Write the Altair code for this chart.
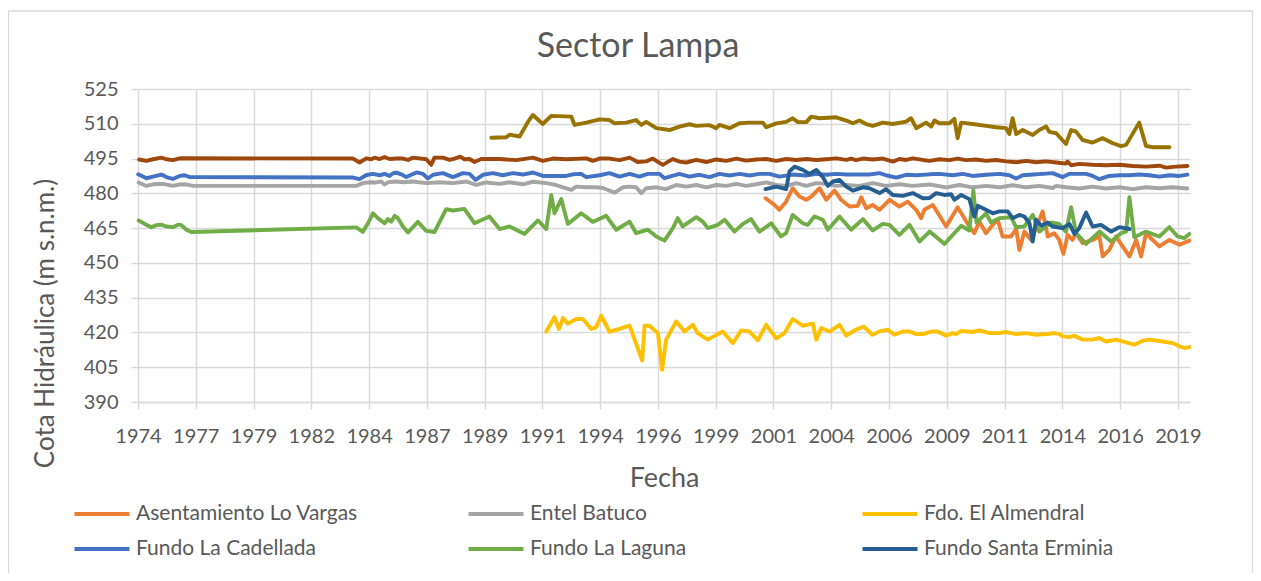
import altair as alt
import pandas as pd

# ---- series names and colours ----
names = ["Asentamiento Lo Vargas", "Entel Batuco", "Fdo. El Almendral",
         "Fundo La Cadellada", "Fundo La Laguna", "Fundo Santa Erminia",
         "Serie 7", "Serie 8"]
legend_names = names[:6]
colors = ["#ED7D31", "#A5A5A5", "#FFC000", "#4472C4", "#70AD47", "#255E91",
          "#9E480E", "#997300"]

# ---- data (decimal year, m s.n.m.) ----
vargas_t = [2001.53, 2001.91, 2002.12, 2002.41, 2002.69, 2002.98, 2003.27, 2003.48, 2003.84, 2004.12,
            2004.48, 2004.76, 2005.12, 2005.47, 2005.62, 2005.83, 2006.11, 2006.40, 2006.83, 2007.25,
            2007.61, 2007.97, 2008.18, 2008.32, 2008.68, 2009.25, 2009.74, 2010.24, 2010.45, 2010.67,
            2010.95, 2011.24, 2011.45, 2011.66, 2012.02, 2012.24, 2012.38, 2012.59, 2012.88, 2013.09,
            2013.37, 2013.59, 2013.87, 2014.08, 2014.26, 2014.44, 2014.65, 2014.80, 2015.08, 2015.51,
            2015.80, 2015.94, 2016.22, 2016.51, 2016.79, 2017.08, 2017.37, 2017.58, 2017.79, 2018.07,
            2018.36, 2018.79, 2019.22, 2019.64]
vargas_v = [477.9, 475.0, 472.9, 476.4, 482.2, 478.6, 477.2, 478.6, 482.2, 477.2,
            481.2, 477.2, 474.3, 474.6, 478.3, 473.6, 475.0, 472.9, 477.2, 474.3,
            476.4, 472.9, 469.3, 472.9, 475.0, 465.7, 474.0, 465.7, 462.8, 467.8,
            462.8, 466.4, 468.6, 461.4, 461.4, 464.6, 455.6, 463.5, 459.9, 465.0,
            472.2, 461.4, 462.8, 459.9, 453.9, 462.1, 459.9, 462.8, 458.5, 459.9,
            461.4, 452.8, 455.6, 461.4, 457.1, 452.8, 459.9, 452.8, 462.8, 459.9,
            457.1, 459.9, 457.8, 459.6]

entel_t = [1974.74, 1975.07, 1975.35, 1975.78, 1976.20, 1976.49, 1976.77, 1977.06, 1984.04, 1984.32,
           1984.61, 1984.89, 1985.10, 1985.25, 1985.39, 1985.75, 1986.03, 1986.46, 1987.03, 1987.60,
           1988.17, 1988.74, 1989.17, 1989.59, 1990.16, 1990.59, 1991.16, 1991.59, 1992.16, 1992.58,
           1992.87, 1993.23, 1993.44, 1993.87, 1994.29, 1994.58, 1995.08, 1995.43, 1995.72, 1996.00,
           1996.22, 1996.43, 1996.86, 1997.28, 1997.71, 1998.14, 1998.57, 1999.00, 1999.42, 1999.85,
           2000.28, 2000.70, 2001.13, 2001.56, 2001.99, 2002.41, 2002.84, 2003.27, 2003.70, 2004.12,
           2004.55, 2004.98, 2005.54, 2006.11, 2006.68, 2007.25, 2007.82, 2008.54, 2009.25, 2009.82,
           2010.38, 2010.96, 2011.52, 2012.09, 2012.67, 2013.23, 2013.80, 2013.95, 2014.37, 2014.94,
           2015.51, 2016.08, 2016.65, 2017.22, 2017.79, 2018.36, 2018.93, 2019.56]
entel_v = [484.7, 483.2, 483.9, 484.1, 483.2, 483.8, 483.9, 483.2, 483.2, 484.4,
           484.8, 484.7, 485.1, 483.8, 484.8, 485.1, 484.8, 485.1, 484.4, 484.8,
           484.4, 485.1, 483.6, 484.7, 484.1, 484.8, 483.9, 485.0, 484.4, 483.6,
           482.6, 481.5, 482.9, 482.6, 482.6, 482.3, 480.3, 482.6, 482.9, 482.6,
           480.1, 482.2, 482.6, 481.8, 483.6, 482.9, 483.6, 482.6, 483.6, 483.2,
           484.1, 483.2, 483.9, 484.7, 483.6, 483.2, 484.4, 483.2, 484.4, 484.1,
           483.2, 483.6, 483.2, 484.4, 483.2, 483.9, 483.2, 483.8, 482.6, 483.6,
           482.6, 483.2, 482.6, 483.5, 482.6, 483.2, 482.3, 483.2, 482.6, 482.1,
           482.9, 482.1, 482.6, 481.8, 482.6, 482.2, 482.6, 482.1]

almendral_t = [1992.16, 1992.51, 1992.70, 1992.87, 1993.08, 1993.44, 1993.72, 1994.08, 1994.29, 1994.51,
               1994.86, 1995.29, 1995.72, 1996.26, 1996.36, 1996.57, 1996.93, 1997.11, 1997.28, 1997.71,
               1998.07, 1998.42, 1998.63, 1999.06, 1999.70, 2000.13, 2000.49, 2000.84, 2001.20, 2001.56,
               2001.99, 2002.34, 2002.69, 2003.12, 2003.55, 2003.70, 2003.91, 2004.27, 2004.69, 2004.98,
               2005.33, 2005.72, 2006.09, 2006.40, 2006.75, 2007.04, 2007.39, 2007.68, 2007.97, 2008.25,
               2008.61, 2008.89, 2009.25, 2009.53, 2009.67, 2009.89, 2010.38, 2010.67, 2011.10, 2011.52,
               2011.81, 2012.24, 2012.67, 2013.09, 2013.66, 2013.80, 2014.08, 2014.23, 2014.52, 2014.73,
               2015.08, 2015.51, 2015.80, 2016.08, 2016.51, 2016.94, 2017.29, 2017.65, 2017.93, 2018.50,
               2018.93, 2019.22, 2019.43, 2019.64]
almendral_v = [420.4, 426.6, 421.5, 426.2, 423.8, 425.8, 425.8, 421.5, 422.3, 427.2,
               420.3, 421.5, 422.9, 407.9, 422.9, 422.9, 419.7, 403.9, 416.9, 424.7,
               420.4, 423.3, 419.7, 416.9, 420.4, 415.4, 420.9, 420.4, 416.6, 423.3,
               417.4, 419.7, 425.8, 422.9, 423.8, 416.9, 421.9, 420.4, 423.3, 418.6,
               420.9, 422.6, 419.0, 420.4, 421.2, 419.0, 420.4, 420.4, 419.3, 419.3,
               420.4, 420.4, 418.6, 419.7, 419.3, 420.7, 420.2, 420.9, 419.7, 419.7,
               420.2, 419.3, 419.7, 419.0, 419.4, 419.7, 419.4, 418.3, 418.0, 418.6,
               416.9, 416.9, 417.6, 416.1, 416.9, 415.7, 414.7, 416.4, 416.9, 416.1,
               415.4, 414.0, 413.3, 413.7]

cadellada_t = [1974.72, 1975.07, 1975.35, 1975.71, 1975.92, 1976.20, 1976.49, 1976.70, 1976.92, 1983.90,
               1984.18, 1984.47, 1984.75, 1985.04, 1985.25, 1985.46, 1985.61, 1985.75, 1985.96, 1986.18,
               1986.32, 1986.61, 1986.89, 1987.10, 1987.32, 1987.74, 1988.17, 1988.60, 1988.88, 1989.14,
               1989.45, 1989.88, 1990.30, 1990.73, 1991.16, 1991.59, 1992.01, 1992.58, 1993.01, 1993.30,
               1993.65, 1993.87, 1994.44, 1994.86, 1995.29, 1995.72, 1996.14, 1996.50, 1997.00, 1997.21,
               1997.43, 1997.85, 1998.28, 1998.71, 1999.14, 1999.56, 1999.99, 2000.42, 2000.84, 2001.27,
               2001.70, 2002.12, 2002.69, 2003.27, 2003.70, 2004.12, 2004.55, 2004.98, 2005.54, 2005.97,
               2006.40, 2006.68, 2007.11, 2007.54, 2007.97, 2008.54, 2008.96, 2009.53, 2009.96, 2010.38,
               2010.96, 2011.52, 2011.95, 2012.24, 2012.52, 2012.95, 2013.38, 2013.80, 2014.23, 2014.52,
               2015.23, 2015.51, 2015.80, 2016.22, 2016.65, 2017.08, 2017.50, 2017.93, 2018.36, 2018.79,
               2019.22, 2019.56]
cadellada_v = [488.2, 486.5, 487.2, 488.1, 487.0, 486.2, 487.5, 487.8, 487.0, 486.8,
               486.1, 487.9, 488.4, 487.8, 488.4, 487.5, 488.7, 488.9, 488.2, 487.0,
               487.7, 489.0, 488.4, 486.4, 488.0, 488.7, 487.0, 488.7, 488.4, 485.8,
               488.0, 488.7, 487.8, 488.7, 488.1, 489.0, 487.5, 487.5, 487.5, 488.2,
               488.4, 487.0, 487.8, 488.7, 487.2, 488.4, 487.2, 488.4, 488.4, 486.5,
               487.2, 488.4, 487.2, 488.0, 487.0, 488.4, 487.7, 488.4, 487.7, 488.4,
               488.4, 487.2, 488.1, 487.7, 488.4, 488.0, 488.4, 488.1, 488.1, 488.1,
               488.7, 487.8, 486.8, 488.0, 487.8, 488.2, 488.4, 487.8, 488.4, 487.5,
               488.0, 488.4, 487.8, 486.4, 487.8, 488.1, 488.4, 488.7, 487.0, 488.4,
               488.4, 487.5, 486.1, 487.5, 487.8, 487.8, 488.1, 487.8, 487.2, 487.8,
               487.5, 488.1]

laguna_t = [1974.74, 1975.07, 1975.28, 1975.50, 1975.71, 1975.92, 1976.20, 1976.42, 1976.56, 1976.78,
            1976.99, 1984.04, 1984.32, 1984.54, 1984.75, 1984.96, 1985.25, 1985.39, 1985.54, 1985.68,
            1985.82, 1986.03, 1986.25, 1986.67, 1987.03, 1987.38, 1987.88, 1988.17, 1988.66, 1989.09,
            1989.73, 1990.16, 1990.59, 1991.23, 1991.80, 1992.16, 1992.37, 1992.51, 1992.80, 1993.08,
            1993.65, 1994.15, 1994.72, 1995.15, 1995.72, 1996.00, 1996.50, 1996.86, 1997.21, 1997.57,
            1997.78, 1997.99, 1998.28, 1998.57, 1998.85, 1999.06, 1999.49, 1999.78, 2000.20, 2000.56,
            2000.91, 2001.27, 2001.62, 2001.77, 2002.19, 2002.41, 2002.69, 2003.12, 2003.33, 2003.62,
            2003.98, 2004.19, 2004.69, 2005.19, 2005.69, 2006.11, 2006.54, 2006.83, 2007.25, 2007.68,
            2008.11, 2008.54, 2009.18, 2009.89, 2010.24, 2010.41, 2010.55, 2010.95, 2011.17, 2011.52,
            2012.02, 2012.24, 2012.59, 2012.95, 2013.23, 2013.73, 2014.08, 2014.37, 2014.59, 2014.80,
            2015.23, 2015.80, 2016.30, 2016.72, 2016.94, 2017.08, 2017.29, 2017.79, 2018.36, 2018.79,
            2019.14, 2019.43, 2019.64]
laguna_v = [468.3, 466.4, 465.4, 466.3, 466.5, 465.7, 465.4, 466.5, 466.3, 464.3,
            463.3, 465.3, 463.4, 467.1, 471.4, 469.3, 467.1, 468.9, 467.8, 470.3,
            469.3, 465.7, 463.1, 467.7, 463.8, 463.3, 473.2, 472.6, 473.3, 467.1,
            470.0, 464.6, 465.7, 462.5, 468.3, 464.6, 479.3, 471.4, 477.5, 466.8,
            471.4, 467.7, 470.3, 464.3, 467.8, 462.8, 464.3, 461.4, 459.6, 465.0,
            469.3, 465.7, 467.8, 469.7, 467.8, 465.0, 466.4, 468.6, 463.5, 466.8,
            468.9, 463.5, 466.0, 467.1, 461.4, 462.8, 470.7, 467.1, 466.4, 470.0,
            468.6, 464.3, 470.0, 464.3, 468.9, 464.0, 466.8, 466.4, 462.1, 466.4,
            459.2, 463.5, 458.2, 466.0, 464.0, 481.2, 467.4, 471.4, 467.4, 469.3,
            469.7, 465.4, 465.7, 470.7, 463.5, 467.4, 466.8, 463.5, 474.0, 462.8,
            458.2, 463.5, 459.2, 462.8, 463.5, 478.3, 461.1, 463.5, 461.4, 465.4,
            461.4, 460.7, 462.5]

erminia_t = [2001.53, 2001.99, 2002.41, 2002.55, 2002.77, 2003.12, 2003.41, 2003.70, 2003.98, 2004.19,
             2004.41, 2004.69, 2004.98, 2005.26, 2005.69, 2005.97, 2006.40, 2006.68, 2006.97, 2007.39,
             2007.82, 2008.25, 2008.54, 2008.82, 2009.17, 2009.46, 2009.60, 2009.89, 2010.24, 2010.45,
             2010.60, 2010.95, 2011.24, 2011.52, 2011.88, 2012.09, 2012.38, 2012.59, 2012.81, 2012.95,
             2013.09, 2013.31, 2013.59, 2013.80, 2014.23, 2014.52, 2014.73, 2014.94, 2015.23, 2015.51,
             2015.87, 2016.30, 2016.65, 2017.08]
erminia_v = [481.8, 482.9, 481.8, 489.4, 491.5, 490.1, 488.4, 490.1, 487.0, 483.2,
             485.1, 485.8, 482.9, 481.2, 482.6, 482.2, 480.1, 481.8, 479.3, 478.9,
             480.1, 477.9, 478.0, 480.1, 479.3, 479.6, 477.2, 479.3, 477.5, 470.0,
             474.6, 472.9, 471.4, 472.2, 472.2, 469.3, 470.7, 470.0, 467.1, 459.2,
             468.6, 466.0, 467.4, 465.7, 465.0, 466.8, 462.5, 465.0, 471.7, 465.7,
             466.4, 463.5, 465.4, 464.6]

serie7_t = [1974.76, 1975.07, 1975.35, 1975.71, 1975.92, 1976.20, 1976.49, 1983.90, 1984.18, 1984.47,
            1984.68, 1984.82, 1985.04, 1985.25, 1985.46, 1985.75, 1986.03, 1986.25, 1986.46, 1987.03,
            1987.24, 1987.38, 1987.74, 1988.03, 1988.24, 1988.48, 1988.66, 1988.88, 1989.09, 1989.38,
            1990.16, 1990.88, 1991.59, 1992.01, 1992.44, 1993.01, 1993.87, 1994.15, 1994.44, 1994.86,
            1995.29, 1995.72, 1996.07, 1996.43, 1996.71, 1997.14, 1997.43, 1997.57, 1997.85, 1998.14,
            1998.57, 1999.00, 1999.42, 1999.85, 2000.28, 2000.70, 2001.13, 2001.56, 2001.99, 2002.41,
            2002.84, 2003.27, 2003.70, 2004.12, 2004.55, 2004.98, 2005.19, 2005.40, 2005.69, 2006.11,
            2006.54, 2006.97, 2007.25, 2007.54, 2007.82, 2008.25, 2008.54, 2008.96, 2009.39, 2009.74,
            2010.10, 2010.53, 2010.96, 2011.38, 2011.81, 2012.24, 2012.67, 2013.09, 2013.52, 2013.95,
            2014.37, 2014.44, 2014.59, 2014.94, 2015.51, 2016.08, 2016.65, 2017.22, 2017.79, 2018.36,
            2018.65, 2019.07, 2019.56]
serie7_v = [494.6, 494.0, 494.7, 495.4, 494.7, 494.3, 495.1, 495.0, 493.3, 495.1,
            494.7, 495.4, 494.8, 495.7, 494.8, 495.0, 495.0, 494.4, 495.4, 494.7,
            492.3, 495.4, 495.4, 494.4, 495.0, 495.8, 494.7, 494.8, 493.5, 494.8,
            494.8, 494.3, 495.4, 494.0, 495.0, 494.7, 495.1, 494.0, 495.0, 495.0,
            494.3, 495.4, 493.5, 493.8, 495.0, 492.3, 494.0, 494.8, 493.7, 493.3,
            494.4, 493.5, 494.6, 494.0, 495.0, 494.1, 494.6, 494.8, 494.0, 494.8,
            494.4, 494.8, 494.4, 494.7, 495.1, 494.4, 495.0, 494.3, 495.0, 494.6,
            495.0, 493.7, 494.8, 494.4, 495.1, 494.4, 494.0, 494.7, 494.3, 495.0,
            494.3, 494.6, 494.0, 494.4, 493.8, 493.4, 494.0, 493.4, 493.8, 493.3,
            492.8, 493.7, 492.1, 492.7, 492.3, 492.1, 492.3, 491.8, 491.5, 491.9,
            491.1, 491.5, 491.8]

serie8_t = [1989.81, 1990.45, 1990.59, 1991.02, 1991.38, 1991.59, 1992.01, 1992.37, 1993.23, 1993.37,
            1993.87, 1994.44, 1994.86, 1995.08, 1995.58, 1996.00, 1996.22, 1996.43, 1996.86, 1997.43,
            1997.85, 1998.28, 1998.57, 1999.14, 1999.42, 1999.56, 1999.99, 2000.42, 2000.84, 2001.41,
            2001.56, 2001.99, 2002.41, 2002.69, 2002.91, 2003.27, 2003.48, 2003.84, 2004.55, 2004.98,
            2005.26, 2005.54, 2005.83, 2006.11, 2006.54, 2006.97, 2007.54, 2007.75, 2007.97, 2008.39,
            2008.61, 2008.75, 2008.96, 2009.39, 2009.60, 2009.74, 2009.89, 2010.38, 2010.96, 2011.38,
            2011.81, 2011.95, 2012.09, 2012.24, 2012.52, 2012.95, 2013.23, 2013.52, 2013.66, 2013.95,
            2014.37, 2014.59, 2014.80, 2015.08, 2015.51, 2015.94, 2016.37, 2016.72, 2016.94, 2017.50,
            2017.79, 2018.07, 2018.79]
serie8_v = [504.0, 504.2, 505.3, 504.5, 510.9, 513.8, 509.9, 513.4, 513.1, 509.5,
            510.5, 511.9, 511.6, 510.2, 510.5, 511.6, 509.5, 510.8, 508.1, 507.3,
            508.8, 509.8, 509.1, 509.4, 508.1, 509.5, 508.1, 510.2, 510.5, 510.5,
            508.5, 510.2, 510.8, 512.4, 510.7, 510.7, 513.1, 512.4, 512.8, 511.4,
            510.2, 511.4, 509.9, 509.1, 510.5, 509.9, 510.9, 512.4, 508.1, 510.5,
            508.8, 511.4, 510.2, 510.2, 512.1, 503.8, 510.5, 509.9, 509.1, 508.5,
            508.1, 505.6, 512.4, 505.6, 507.3, 505.2, 507.3, 508.8, 506.5, 505.9,
            501.3, 507.3, 506.6, 503.0, 501.9, 503.8, 501.6, 500.4, 500.9, 510.5,
            500.4, 499.9, 499.9]

# ---- axes ----
x_start, x_end = 1974.71, 2019.67
x_step = 2.469                      # Excel date-axis major unit (~902 days)
x_ticks = [round(x_start + k * x_step, 3) for k in range(19)]
y_ticks = [390, 405, 420, 435, 450, 465, 480, 495, 510, 525]

series = [(names[0], vargas_t, vargas_v), (names[1], entel_t, entel_v),
          (names[2], almendral_t, almendral_v), (names[3], cadellada_t, cadellada_v),
          (names[4], laguna_t, laguna_v), (names[5], erminia_t, erminia_v),
          (names[6], serie7_t, serie7_v), (names[7], serie8_t, serie8_v)]
rows = []
for i, (n, ts, vs) in enumerate(series):
    for t, v in zip(ts, vs):
        rows.append({"Serie": n, "Fecha": t, "Cota": v, "orden": i})
df = pd.DataFrame(rows)

FONT = "Lato"
W, H = 1052, 313

lines = alt.Chart(df).mark_line(strokeWidth=3.9, strokeJoin="round", strokeCap="round").encode(
    x=alt.X("Fecha:Q",
            scale=alt.Scale(domain=[x_start, x_end], nice=False, zero=False),
            axis=alt.Axis(values=x_ticks, labelExpr="'' + floor(datum.value)",
                          title="Fecha", grid=True, domain=True, ticks=True, tickSize=7,
                          labelPadding=17, titlePadding=19, labelFlush=False,
                          labelOverlap=False, titleFontSize=27)),
    y=alt.Y("Cota:Q",
            scale=alt.Scale(domain=[390, 525], nice=False, zero=False),
            axis=alt.Axis(values=y_ticks, title="Cota Hidráulica (m s.n.m.)", grid=True,
                          domain=False, ticks=True, tickSize=7, labelPadding=13,
                          titleFontSize=26, titleX=-93, titleY=234, titleAngle=270,
                          titleAlign="center", titleBaseline="middle")),
    color=alt.Color("Serie:N",
                    scale=alt.Scale(domain=names, range=colors),
                    legend=alt.Legend(values=legend_names, orient="none", direction="horizontal",
                                      legendX=-49, legendY=412, columns=3, gridAlign="all",
                                      columnPadding=102, rowPadding=12,
                                      symbolType="M-2.5,0H2.5", symbolSize=484,
                                      symbolStrokeWidth=4, labelOffset=21,
                                      labelLimit=500, title=None)),
    detail="Serie:N",
    order=alt.Order("Fecha:Q"),
)

frame = alt.Chart(alt.Data(values=[{}])).mark_rect(
    fillOpacity=0, stroke="#D9D9D9", strokeWidth=1.3
).encode(
    x=alt.value(-129.5), x2=alt.value(W + 62.5),
    y=alt.value(-78), y2=alt.value(H + 300),
)

chart = alt.layer(frame, lines).properties(
    width=W, height=H,
    title=alt.TitleParams("Sector Lampa", fontSize=34, font=FONT, color="#595959",
                          fontWeight="normal", anchor="middle", dx=-26, offset=-81,
                          baseline="alphabetic"),
    autosize=alt.AutoSizeParams(type="none"),
    padding={"left": 130, "top": 81, "right": 63, "bottom": 171},
).configure_view(stroke=None).configure_axis(
    labelFont=FONT, labelFontSize=20, labelColor="#595959",
    titleFont=FONT, titleFontSize=27, titleColor="#595959", titleFontWeight="normal",
    gridColor="#D9D9D9", gridWidth=1.5, tickColor="#D9D9D9", tickWidth=1.5,
    domainColor="#D9D9D9", domainWidth=1.5,
).configure_legend(
    labelFont=FONT, labelFontSize=21, labelColor="#595959",
)

chart.save("out.html", embed_options={"renderer": "svg", "actions": False})
